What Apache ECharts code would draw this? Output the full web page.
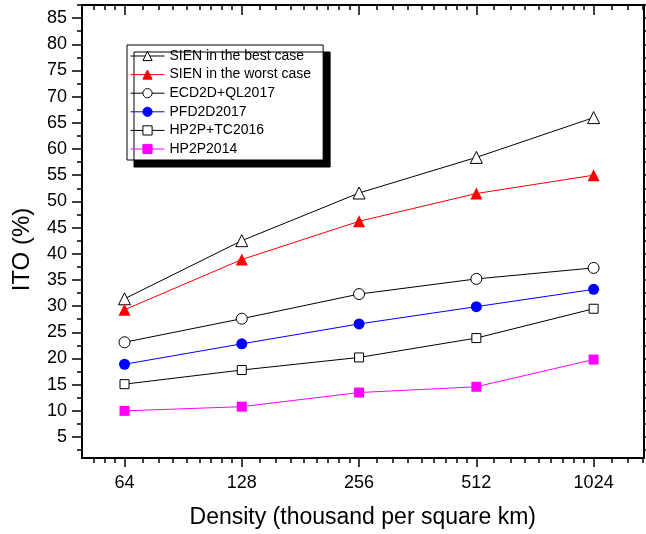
<!DOCTYPE html>
<html><head><meta charset="utf-8">
<script src="https://cdn.jsdelivr.net/npm/echarts@6/dist/echarts.min.js"></script>
<style>html,body{margin:0;padding:0;background:#fff}#c{width:646px;height:534px}</style>
</head><body><div id="c"></div>
<script>
// ---- data ----
const densities = [64, 128, 256, 512, 1024];
const sienBest  = [31.4, 42.5, 51.6, 58.4, 66.0];
const sienWorst = [29.3, 38.9, 46.2, 51.5, 55.0];
const ecd2dQl   = [23.1, 27.6, 32.3, 35.2, 37.3];
const pfd2d     = [18.9, 22.8, 26.6, 29.9, 33.2];
const hp2pTc    = [15.1, 17.8, 20.2, 23.9, 29.5];
const hp2p      = [10.0, 10.8, 13.5, 14.6, 19.8];
const seriesNames = ['SIEN in the best case', 'SIEN in the worst case', 'ECD2D+QL2017', 'PFD2D2017', 'HP2P+TC2016', 'HP2P2014'];
const xTickLabels = [64, 128, 256, 512, 1024];
const yTickLabels = [5, 10, 15, 20, 25, 30, 35, 40, 45, 50, 55, 60, 65, 70, 75, 80, 85];

// ---- axis ranges / tick helpers ----
const X_MIN = 49.78, X_MAX = 1375;
const Y_MIN = 1, Y_MAX = 87.5;
const xMinor = [];
[32, 64, 128, 256, 512, 1024].forEach(a => {
  for (let k = 1; k <= 8; k++) { const v = a + k * a / 9; if (v >= X_MIN && v <= X_MAX) xMinor.push(v); }
});
const yMinor = yTickLabels.map(v => v - 2.5).concat([87.5]);

const FONT = 'Liberation Sans, Arial, sans-serif';
const pairs = arr => densities.map((d, i) => [d, arr[i]]);

const baseX = (pos, extra) => Object.assign({
  type: 'log', logBase: 2, min: X_MIN, max: X_MAX, position: pos, gridIndex: 0,
  splitLine: { show: false },
  axisLine: { show: false },
  axisLabel: { show: false },
  axisTick: { show: false }
}, extra);
const baseY = (pos, extra) => Object.assign({
  type: 'value', min: Y_MIN, max: Y_MAX, position: pos, gridIndex: 0,
  splitLine: { show: false },
  axisLine: { show: false },
  axisLabel: { show: false },
  axisTick: { show: false }
}, extra);

const lineAx = { show: true, lineStyle: { color: '#000', width: 2 } };

const mk = (name, data, color, symbol, size, filled) => ({
  name, type: 'line', data: pairs(data), xAxisIndex: 0, yAxisIndex: 0,
  symbol, symbolSize: size, showAllSymbol: true,
  lineStyle: { color, width: 1 },
  itemStyle: filled ? { color, borderColor: color, borderWidth: 0 }
                    : { color: '#fff', borderColor: '#000', borderWidth: 1 },
  emphasis: { disabled: true }, z: 3
});

const chart = echarts.init(document.getElementById('c'), null, { renderer: 'canvas' });
chart.setOption({
  animation: false,
  backgroundColor: '#fff',
  textStyle: { fontFamily: FONT, color: '#000' },
  grid: { left: 82, right: 2.5, top: 5, bottom: 74.5, containLabel: false },
  legend: {
    data: seriesNames, orient: 'vertical', left: 127, top: 45,
    itemWidth: 34, itemHeight: 11.5, itemGap: 4.6,
    padding: [4, 12, 4, 3],
    backgroundColor: '#fff', borderColor: '#000', borderWidth: 1,
    shadowColor: '#000', shadowBlur: 0, shadowOffsetX: 7, shadowOffsetY: 7,
    itemStyle: { borderWidth: 1 },
    lineStyle: { width: 1 },
    textStyle: { fontFamily: FONT, fontSize: 14, color: '#000', padding: [0,0,0,0] },
    selectedMode: false
  },
  xAxis: [
    baseX('bottom', {
      name: 'Density (thousand per square km)', nameLocation: 'middle', nameGap: 48,
      nameTextStyle: { fontFamily: FONT, fontSize: 23, color: '#000' },
      axisLine: lineAx,
      axisTick: { show: true, inside: false, length: 9, customValues: xTickLabels, lineStyle: { color: '#000', width: 1.5 } },
      axisLabel: { show: true, customValues: xTickLabels, fontFamily: FONT, fontSize: 18, color: '#000', margin: 16, formatter: v => String(Math.round(v)) }
    }),
    baseX('bottom', {
      axisTick: { show: true, inside: false, length: 5, customValues: xMinor, lineStyle: { color: '#000', width: 1.5 } }
    }),
    baseX('top', {
      axisLine: lineAx,
      axisTick: { show: true, inside: true, length: 10, customValues: xTickLabels, lineStyle: { color: '#000', width: 1.5 } }
    }),
    baseX('top', {
      axisTick: { show: true, inside: true, length: 5, customValues: xMinor, lineStyle: { color: '#000', width: 1.5 } }
    })
  ],
  yAxis: [
    baseY('left', {
      name: 'ITO (%)', nameLocation: 'middle', nameGap: 48,
      nameTextStyle: { fontFamily: FONT, fontSize: 24, color: '#000', padding: [0, 36, 0, 0] },
      axisLine: lineAx,
      axisTick: { show: true, inside: false, length: 10, customValues: yTickLabels, lineStyle: { color: '#000', width: 1.5 } },
      axisLabel: { show: true, customValues: yTickLabels, fontFamily: FONT, fontSize: 18, color: '#000', margin: 15 }
    }),
    baseY('left', {
      axisTick: { show: true, inside: false, length: 5, customValues: yMinor, lineStyle: { color: '#000', width: 1.5 } }
    }),
    baseY('right', {
      axisLine: lineAx,
      axisTick: { show: true, inside: false, length: 4, customValues: yTickLabels.concat(yMinor), lineStyle: { color: '#000', width: 1.5 } }
    })
  ],
  series: [
    mk(seriesNames[0], sienBest,  '#000000', 'triangle', 12, false),
    mk(seriesNames[1], sienWorst, '#ff0000', 'triangle', 12, true),
    mk(seriesNames[2], ecd2dQl,   '#000000', 'circle', 11, false),
    mk(seriesNames[3], pfd2d,     '#0000ff', 'circle', 11, true),
    mk(seriesNames[4], hp2pTc,    '#000000', 'rect', 9, false),
    mk(seriesNames[5], hp2p,      '#ff00ff', 'rect', 10, true)
  ]
});
</script>
</body></html>
